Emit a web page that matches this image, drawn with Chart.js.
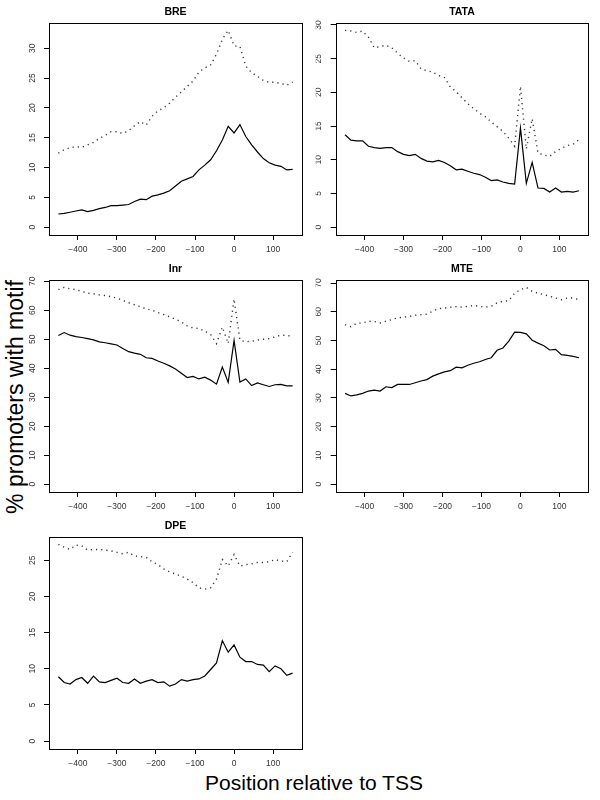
<!DOCTYPE html>
<html>
<head>
<meta charset="utf-8">
<script src="https://cdn.jsdelivr.net/npm/chart.js@4.4.0/dist/chart.umd.min.js"></script>
<style>
  html, body { margin: 0; padding: 0; background: #fff; }
  #fig { position: relative; width: 600px; height: 800px; overflow: hidden; font-family: "Liberation Sans", Arial, sans-serif; }
  .panel { position: absolute; }
  #ylab { position: absolute; left: 15px; top: 397px; transform: translate(-50%, -50%) rotate(-90deg); font-size: 23px; line-height: 23px; white-space: nowrap; color: #000; }
  #xlab { position: absolute; left: 314px; top: 772px; transform: translateX(-50%); font-size: 21px; line-height: 21px; white-space: nowrap; color: #000; }
</style>
</head>
<body>
<div id="fig">
  <div id="ylab">% promoters with motif</div>
  <div id="xlab">Position relative to TSS</div>
</div>
<script>
// positions relative to TSS
const positions = [-450, -435, -420, -405, -390, -375, -360, -345, -330, -315, -300, -285, -270, -255, -240, -225, -210, -195, -180, -165, -150, -135, -120, -105, -90, -75, -60, -45, -30, -15, 0, 15, 30, 45, 60, 75, 90, 105, 120, 135, 150];

// BRE
const breSolid = [2.2, 2.3, 2.5, 2.7, 2.9, 2.6, 2.8, 3.1, 3.3, 3.6, 3.6, 3.7, 3.8, 4.3, 4.7, 4.6, 5.2, 5.4, 5.7, 6.1, 6.9, 7.7, 8.1, 8.5, 9.6, 10.4, 11.3, 12.8, 14.6, 16.9, 15.8, 17.2, 15.2, 13.8, 12.6, 11.5, 10.8, 10.4, 10.2, 9.6, 9.7];
const breDotted = [12.4, 13.0, 13.3, 13.5, 13.4, 13.8, 14.2, 14.9, 15.4, 16.0, 16.0, 15.7, 16.2, 17.0, 17.7, 17.1, 18.6, 19.5, 20.0, 20.8, 21.8, 22.7, 23.6, 24.5, 26.0, 26.7, 27.2, 29.0, 31.5, 33.0, 30.4, 30.3, 27.0, 25.9, 25.3, 24.6, 24.3, 24.3, 24.1, 23.8, 24.3];

// TATA
const tataSolid = [13.7, 12.9, 12.8, 12.8, 12.0, 11.8, 11.7, 11.8, 11.8, 11.2, 10.8, 10.6, 10.8, 10.2, 9.8, 9.7, 9.9, 9.6, 9.1, 8.5, 8.6, 8.3, 8.0, 7.8, 7.4, 6.9, 7.0, 6.7, 6.5, 6.4, 14.7, 6.5, 9.6, 5.8, 5.75, 5.2, 5.8, 5.2, 5.3, 5.2, 5.4];
const tataDotted = [29.2, 29.1, 28.9, 29.1, 28.2, 26.6, 26.8, 27.0, 26.6, 25.8, 25.1, 24.6, 24.7, 23.5, 23.2, 23.0, 22.5, 22.2, 20.8, 20.1, 19.2, 18.3, 17.6, 16.9, 16.4, 15.6, 14.9, 14.2, 13.2, 12.0, 20.9, 11.6, 16.1, 11.0, 10.7, 10.5, 11.2, 11.7, 12.1, 12.3, 13.0];

// Inr
const inrSolid = [51.3, 52.3, 51.4, 50.9, 50.6, 50.2, 49.8, 49.1, 48.8, 48.4, 48.0, 46.8, 45.7, 45.2, 44.8, 43.6, 43.4, 42.5, 41.7, 40.8, 39.7, 38.3, 36.8, 37.2, 36.3, 36.9, 35.9, 34.5, 40.4, 35.1, 49.6, 35.2, 36.3, 34.0, 34.9, 34.3, 33.7, 34.3, 34.4, 33.9, 33.9];
const inrDotted = [67.1, 67.9, 67.4, 67.1, 66.5, 65.9, 65.7, 65.3, 65.1, 64.7, 64.2, 63.4, 62.6, 61.9, 61.2, 60.5, 60.0, 59.2, 58.5, 57.7, 56.9, 56.0, 54.6, 53.9, 53.7, 52.8, 51.6, 48.5, 54.2, 48.5, 63.9, 49.7, 49.1, 49.3, 49.7, 50.0, 50.2, 50.8, 51.4, 51.4, 50.8];

// MTE
const mteSolid = [31.6, 30.7, 31.1, 31.6, 32.4, 32.7, 32.4, 33.9, 33.6, 34.7, 34.7, 34.7, 35.3, 35.9, 36.4, 37.6, 38.4, 39.1, 39.5, 40.7, 40.5, 41.4, 42.1, 42.6, 43.4, 44.0, 46.6, 47.4, 49.8, 52.9, 52.8, 52.3, 50.1, 49.1, 48.2, 46.7, 46.9, 45.1, 44.8, 44.5, 44.0];
const mteDotted = [55.5, 54.8, 56.0, 56.1, 56.7, 56.6, 56.1, 56.7, 57.3, 57.9, 58.1, 58.4, 58.8, 59.0, 59.2, 60.2, 61.1, 61.3, 61.6, 61.8, 61.6, 61.9, 62.2, 61.9, 61.6, 61.9, 63.1, 63.6, 63.9, 66.5, 67.7, 68.5, 67.1, 66.5, 66.0, 65.4, 64.8, 64.2, 64.8, 64.8, 64.2];

// DPE
const dpeSolid = [8.9, 8.1, 7.9, 8.5, 8.8, 8.0, 9.0, 8.2, 8.1, 8.4, 8.7, 8.1, 8.0, 8.6, 8.0, 8.3, 8.5, 8.1, 8.2, 7.6, 7.9, 8.5, 8.3, 8.5, 8.6, 9.0, 9.9, 10.8, 13.9, 12.3, 13.3, 11.6, 11.0, 11.0, 10.6, 10.5, 9.6, 10.4, 10.0, 9.1, 9.4];
const dpeDotted = [27.2, 26.8, 26.5, 27.1, 27.0, 26.4, 26.5, 26.5, 26.4, 26.3, 26.1, 25.9, 26.1, 25.6, 25.5, 25.4, 24.8, 24.4, 23.8, 23.4, 23.1, 22.8, 22.4, 21.9, 21.2, 21.0, 21.2, 22.4, 25.1, 24.2, 25.8, 24.2, 24.4, 24.5, 24.7, 24.7, 24.8, 25.1, 24.9, 24.8, 26.1];

// tick labels
const xTicks = [-400, -300, -200, -100, 0, 100];
const yTicks30 = [0, 5, 10, 15, 20, 25, 30];
const yTicks70 = [0, 10, 20, 30, 40, 50, 60, 70];
const yTicks25 = [0, 5, 10, 15, 20, 25];

const panels = [
  { title: 'BRE',  col: 0, row: 0, solid: breSolid,  dotted: breDotted,  yTicks: yTicks30 },
  { title: 'TATA', col: 1, row: 0, solid: tataSolid, dotted: tataDotted, yTicks: yTicks30 },
  { title: 'Inr',  col: 0, row: 1, solid: inrSolid,  dotted: inrDotted,  yTicks: yTicks70 },
  { title: 'MTE',  col: 1, row: 1, solid: mteSolid,  dotted: mteDotted,  yTicks: yTicks70 },
  { title: 'DPE',  col: 0, row: 2, solid: dpeSolid,  dotted: dpeDotted,  yTicks: yTicks25 }
];

const FONT = '"Liberation Sans", Arial, sans-serif';

// box around plot region + panel title
const framePlugin = {
  id: 'frame',
  afterDraw(chart, args, opts) {
    const { ctx, chartArea: a } = chart;
    ctx.save();
    ctx.strokeStyle = '#000';
    ctx.lineWidth = 1;
    const l = Math.round(a.left) + 0.5, t = Math.round(a.top) + 0.5;
    const r = Math.round(a.right) + 0.5, b = Math.round(a.bottom) + 0.5;
    ctx.strokeRect(l, t, r - l, b - t);
    ctx.fillStyle = '#000';
    ctx.font = 'bold 10.5px ' + FONT;
    ctx.textAlign = 'center';
    ctx.textBaseline = 'middle';
    ctx.fillText(opts.text, (a.left + a.right) / 2, a.top - 10.5);
    ctx.restore();
  }
};

const fig = document.getElementById('fig');

panels.forEach(p => {
  const cv = document.createElement('canvas');
  const w = p.col === 0 ? 305 : 295;
  cv.width = w;
  cv.height = 257;
  cv.className = 'panel';
  cv.style.left = (p.col === 0 ? 0 : 305) + 'px';
  cv.style.top = (p.row * 257) + 'px';
  fig.appendChild(cv);

  const ymax = Math.max(...p.solid, ...p.dotted);

  new Chart(cv.getContext('2d'), {
    type: 'line',
    data: {
      datasets: [
        {
          data: positions.map((x, i) => ({ x: x, y: p.dotted[i] })),
          borderColor: '#333',
          borderWidth: 1.4,
          borderDash: [1.2, 4],
          pointRadius: 0,
          tension: 0
        },
        {
          data: positions.map((x, i) => ({ x: x, y: p.solid[i] })),
          borderColor: '#000',
          borderWidth: 1.2,
          pointRadius: 0,
          tension: 0
        }
      ]
    },
    options: {
      responsive: false,
      animation: false,
      layout: { padding: { left: p.col === 0 ? 29 : 10.7, right: p.col === 0 ? 3 : 11.7, top: 22.5, bottom: 0 } },
      plugins: { legend: { display: false }, tooltip: { enabled: false }, frame: { text: p.title } },
      scales: {
        x: {
          type: 'linear',
          min: -474,
          max: 174,
          afterBuildTicks: s => { s.ticks = xTicks.map(v => ({ value: v })); },
          afterFit: s => { s.height = 22; },
          grid: { drawOnChartArea: false, drawTicks: true, tickLength: 5, color: '#000', lineWidth: 1 },
          border: { display: false },
          ticks: {
            padding: 5,
            color: '#333',
            font: { family: FONT, size: 8.5 },
            maxRotation: 0,
            autoSkip: false,
            callback: v => v < 0 ? '\u2212' + Math.abs(v) : String(v)
          }
        },
        y: {
          min: -0.04 * ymax,
          max: 1.04 * ymax,
          afterBuildTicks: s => { s.ticks = p.yTicks.map(v => ({ value: v })); },
          afterFit: s => { s.width = 20; },
          grid: { drawOnChartArea: false, drawTicks: true, tickLength: 5, color: '#000', lineWidth: 1 },
          border: { display: false },
          ticks: {
            padding: 7,
            color: '#333',
            font: { family: FONT, size: 8.5 },
            minRotation: 90,
            maxRotation: 90,
            crossAlign: 'center',
            autoSkip: false,
            callback: v => String(v)
          }
        }
      }
    },
    plugins: [framePlugin]
  });
});
</script>
</body>
</html>
